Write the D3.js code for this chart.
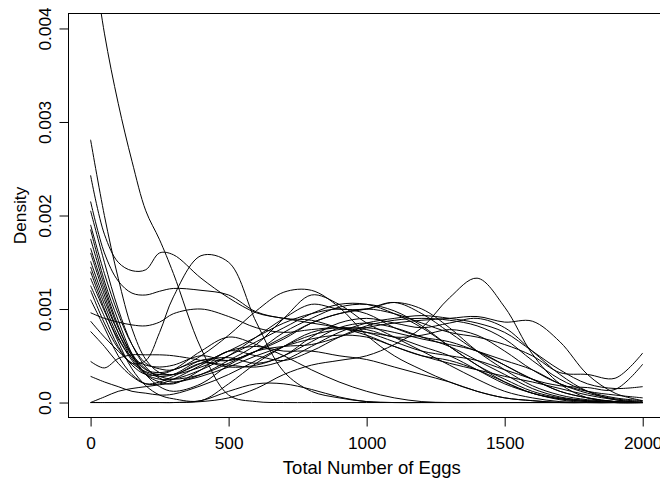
<!DOCTYPE html>
<html>
<head>
<meta charset="utf-8">
<script src="https://cdn.jsdelivr.net/npm/d3@7"></script>
<style>
  body { margin: 0; background: #fff; }
  svg { display: block; font-family: "Liberation Sans", Arial, sans-serif; }
</style>
</head>
<body>
<svg id="chart" width="660" height="481"></svg>
<script>
const eggs = [0, 50, 100, 150, 200, 250, 300, 400, 500, 600, 700, 800, 900, 1000,
  1100, 1200, 1300, 1400, 1500, 1600, 1700, 1800, 1900, 2000];

// density values, in units of 0.001
const curve01 = [4.95, 3.95, 3.2, 2.58, 2.05, 1.74, 1.38, 0.58, 0.08, 0.01, 0, 0, 0, 0, 0, 0, 0, 0, 0, 0, 0, 0, 0, 0];
const curve02 = [2.43, 1.8, 1.5, 1.41, 1.42, 1.6, 1.58, 1.33, 1.12, 0.96, 0.9, 0.85, 0.8, 0.72, 0.6, 0.5, 0.45, 0.35, 0.22, 0.1, 0.04, 0.01, 0, 0];
const curve03 = [2.15, 1.6, 1.3, 1.17, 1.15, 1.19, 1.22, 1.2, 1.15, 0.97, 0.9, 0.88, 0.8, 0.75, 0.7, 0.6, 0.5, 0.35, 0.2, 0.1, 0.03, 0, 0, 0];
const curve04 = [0.96, 0.9, 0.86, 0.83, 0.82, 0.86, 0.95, 1.0, 0.92, 0.8, 0.75, 0.78, 0.8, 0.75, 0.65, 0.55, 0.5, 0.45, 0.35, 0.25, 0.12, 0.05, 0.01, 0];
const curve05 = [2.81, 2.0, 1.33, 0.79, 0.46, 0.32, 0.3, 0.38, 0.5, 0.65, 0.8, 0.95, 1.05, 1.05, 0.95, 0.8, 0.6, 0.4, 0.25, 0.12, 0.05, 0.02, 0, 0];
const curve06 = [2.05, 1.5, 1.0, 0.62, 0.38, 0.26, 0.22, 0.3, 0.45, 0.62, 0.9, 1.15, 1.05, 0.85, 0.7, 0.55, 0.4, 0.25, 0.12, 0.05, 0.01, 0, 0, 0];
const curve07 = [1.85, 1.3, 0.88, 0.52, 0.3, 0.17, 0.12, 0.2, 0.4, 0.55, 0.7, 0.85, 0.95, 1.0, 1.07, 0.95, 0.75, 0.55, 0.4, 0.25, 0.12, 0.05, 0.01, 0];
const curve08 = [1.75, 1.25, 0.82, 0.5, 0.3, 0.22, 0.2, 0.35, 0.55, 0.5, 0.45, 0.55, 0.7, 0.82, 0.88, 0.9, 0.88, 0.82, 0.68, 0.45, 0.25, 0.12, 0.05, 0.02];
const curve09 = [1.51, 1.1, 0.75, 0.5, 0.35, 0.32, 0.35, 0.45, 0.48, 0.42, 0.5, 0.7, 0.85, 0.9, 0.85, 0.8, 0.85, 0.9, 0.8, 0.55, 0.3, 0.12, 0.03, 0];
const curve10 = [1.4, 1.0, 0.65, 0.36, 0.18, 0.08, 0.04, 0.02, 0.2, 0.42, 0.6, 0.75, 0.8, 0.78, 0.7, 0.72, 0.78, 0.72, 0.55, 0.35, 0.2, 0.12, 0.08, 0.05];
const curve11 = [1.33, 0.98, 0.68, 0.48, 0.4, 0.38, 0.4, 0.5, 0.45, 0.55, 0.68, 0.85, 0.95, 1.0, 0.95, 0.85, 0.75, 0.7, 0.62, 0.5, 0.32, 0.3, 0.26, 0.53];
const curve12 = [0.87, 0.7, 0.55, 0.42, 0.33, 0.3, 0.3, 0.42, 0.55, 0.7, 0.85, 0.95, 1.0, 0.95, 0.8, 0.7, 0.65, 0.55, 0.45, 0.35, 0.2, 0.1, 0.04, 0.01];
const curve13 = [0.76, 0.6, 0.42, 0.28, 0.2, 0.22, 0.28, 0.42, 0.4, 0.38, 0.45, 0.6, 0.75, 0.85, 0.9, 0.93, 0.9, 0.85, 0.75, 0.55, 0.35, 0.2, 0.15, 0.17];
const curve14 = [0.44, 0.37, 0.47, 0.51, 0.51, 0.51, 0.5, 0.45, 0.38, 0.4, 0.5, 0.65, 0.8, 0.85, 0.8, 0.7, 0.6, 0.45, 0.3, 0.15, 0.06, 0.02, 0, 0];
const curve15 = [0.28, 0.22, 0.17, 0.12, 0.1, 0.08, 0.09, 0.18, 0.3, 0.45, 0.6, 0.72, 0.78, 0.8, 0.75, 0.68, 0.62, 0.55, 0.4, 0.25, 0.18, 0.16, 0.14, 0.41];
const curve16 = [0, 0.06, 0.12, 0.15, 0.17, 0.19, 0.21, 0.28, 0.38, 0.5, 0.6, 0.68, 0.72, 0.7, 0.6, 0.5, 0.42, 0.35, 0.28, 0.22, 0.15, 0.08, 0.03, 0];
const curve17 = [0, 0, 0, 0, 0, 0, 0, 0.02, 0.12, 0.2, 0.2, 0.14, 0.06, 0.01, 0, 0, 0, 0, 0, 0, 0, 0, 0, 0];
const curve18 = [0, 0, 0, 0, 0, 0, 0, 0.01, 0.05, 0.15, 0.3, 0.4, 0.45, 0.5, 0.62, 0.8, 1.12, 1.33, 1.02, 0.52, 0.2, 0.05, 0.01, 0];
const curve19 = [1.65, 1.2, 0.8, 0.52, 0.36, 0.28, 0.25, 0.3, 0.42, 0.55, 0.6, 0.62, 0.7, 0.8, 0.85, 0.88, 0.9, 0.92, 0.86, 0.87, 0.65, 0.3, 0.1, 0.02];
const curve20 = [1.9, 1.38, 0.95, 0.62, 0.42, 0.36, 0.35, 0.5, 0.72, 0.98, 1.18, 1.2, 1.02, 0.72, 0.5, 0.35, 0.22, 0.12, 0.05, 0.02, 0, 0, 0, 0];
const curve21 = [1.6, 1.15, 0.75, 0.47, 0.32, 0.28, 0.3, 0.45, 0.45, 0.55, 0.75, 0.9, 1.02, 1.05, 0.98, 0.82, 0.6, 0.4, 0.22, 0.1, 0.04, 0.01, 0, 0];
const curve22 = [1.45, 1.05, 0.7, 0.45, 0.3, 0.25, 0.25, 0.35, 0.5, 0.7, 0.9, 1.05, 1.0, 1.0, 1.07, 1.0, 0.8, 0.55, 0.35, 0.18, 0.08, 0.03, 0.01, 0];
const curve23 = [1.25, 0.92, 0.6, 0.4, 0.3, 0.3, 0.35, 0.55, 0.7, 0.62, 0.5, 0.35, 0.22, 0.12, 0.05, 0.01, 0, 0, 0, 0, 0, 0, 0, 0];
const curve24 = [1.1, 0.8, 0.5, 0.3, 0.2, 0.2, 0.25, 0.4, 0.55, 0.6, 0.55, 0.55, 0.5, 0.46, 0.38, 0.3, 0.22, 0.12, 0.05, 0.02, 0, 0, 0, 0];
const curve25 = [1.2, 0.85, 0.58, 0.42, 0.45, 0.75, 1.13, 1.57, 1.5, 0.86, 0.33, 0.12, 0.05, 0.01, 0, 0, 0, 0, 0, 0, 0, 0, 0, 0];

const xTicks = [0, 500, 1000, 1500, 2000];
const yTicks = [0, 0.001, 0.002, 0.003, 0.004];
const yTickLabels = ['0.0', '0.001', '0.002', '0.003', '0.004'];

const curves = [curve01, curve02, curve03, curve04, curve05, curve06, curve07, curve08,
  curve09, curve10, curve11, curve12, curve13, curve14, curve15, curve16,
  curve17, curve18, curve19, curve20, curve21, curve22, curve23, curve24, curve25];

const svg = d3.select('#chart');

// plot region like R: limits padded 4% on each side
const plot = { left: 68.5, top: 13.5, right: 664.8, bottom: 417.5 };

const xScale = d3.scaleLinear()
  .domain([-80, 2080])
  .range([plot.left, plot.right]);

const yScale = d3.scaleLinear()
  .domain([-0.00016, 0.00416])
  .range([plot.bottom, plot.top]);

svg.append('defs').append('clipPath')
  .attr('id', 'plot-clip')
  .append('rect')
  .attr('x', plot.left)
  .attr('y', plot.top)
  .attr('width', plot.right - plot.left)
  .attr('height', plot.bottom - plot.top);

const line = d3.line()
  .x((d, i) => xScale(eggs[i]))
  .y(d => yScale(d / 1000))
  .curve(d3.curveCatmullRom.alpha(0.5));

svg.append('g')
  .attr('clip-path', 'url(#plot-clip)')
  .selectAll('path')
  .data(curves)
  .enter()
  .append('path')
  .attr('d', line)
  .attr('fill', 'none')
  .attr('stroke', '#000')
  .attr('stroke-width', 1);

// box
svg.append('rect')
  .attr('x', plot.left)
  .attr('y', plot.top)
  .attr('width', plot.right - plot.left)
  .attr('height', plot.bottom - plot.top)
  .attr('fill', 'none')
  .attr('stroke', '#000')
  .attr('stroke-width', 1);

// x axis
const xAxis = svg.append('g')
  .attr('transform', `translate(0,${plot.bottom})`)
  .call(d3.axisBottom(xScale).tickValues(xTicks).tickSize(9).tickSizeOuter(0).tickFormat(d3.format('d')));
xAxis.select('.domain').remove();
xAxis.selectAll('line').attr('stroke', '#000');
xAxis.selectAll('text')
  .attr('y', 31.5)
  .attr('dy', 0)
  .attr('fill', '#000')
  .style('font-size', '17.3px');

// y axis, labels rotated as in R
const yAxis = svg.append('g')
  .attr('transform', `translate(${plot.left},0)`)
  .call(d3.axisLeft(yScale).tickValues(yTicks).tickSize(9).tickSizeOuter(0)
    .tickFormat((d, i) => yTickLabels[i]));
yAxis.select('.domain').remove();
yAxis.selectAll('line').attr('stroke', '#000');
yAxis.selectAll('text')
  .attr('x', 0)
  .attr('dy', 0)
  .attr('transform', 'translate(-17.5,0) rotate(-90)')
  .attr('text-anchor', 'middle')
  .attr('fill', '#000')
  .style('font-size', '17.3px');

// axis titles
svg.append('text')
  .attr('x', 371.8)
  .attr('y', 474.3)
  .attr('text-anchor', 'middle')
  .style('font-size', '18.5px')
  .text('Total Number of Eggs');

svg.append('text')
  .attr('transform', 'translate(26,215.5) rotate(-90)')
  .attr('text-anchor', 'middle')
  .style('font-size', '17.3px')
  .text('Density');
</script>
</body>
</html>
